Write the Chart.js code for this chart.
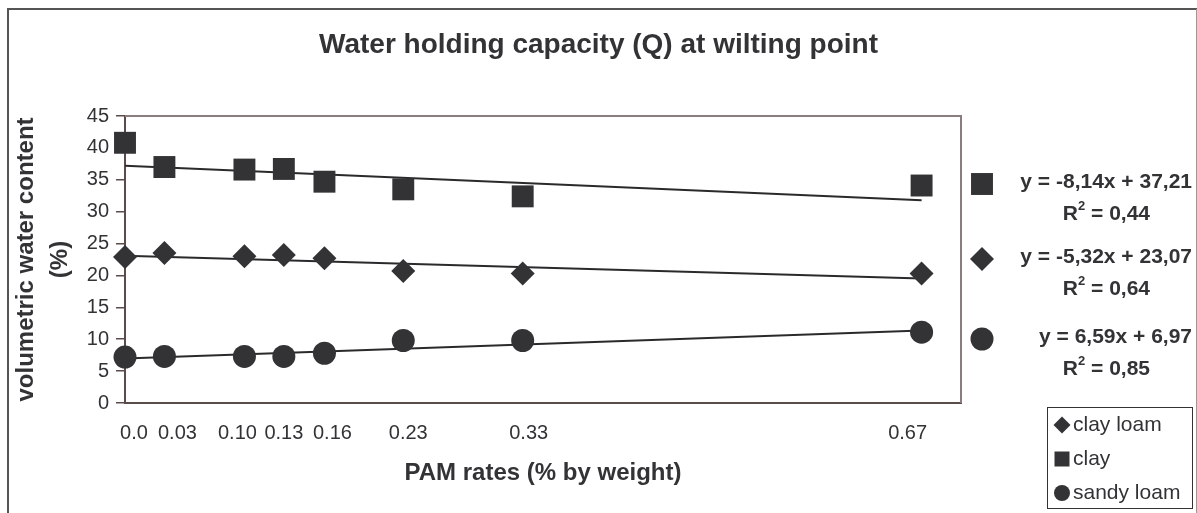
<!DOCTYPE html>
<html>
<head>
<meta charset="utf-8">
<script src="https://cdn.jsdelivr.net/npm/chart.js@4"></script>
<style>
  body { margin: 0; background: #fff; }
  canvas { display: block; }
</style>
</head>
<body>
<canvas id="wiltChart" width="1197" height="513"></canvas>
<script>
  // ────────── Data ──────────
  const pamRates = [0, 0.033, 0.1, 0.133, 0.167, 0.233, 0.333, 0.667];
  const xTickLabels = ['0.0', '0.03', '0.10', '0.13', '0.16', '0.23', '0.33', '0.67'];
  const yTicks = [0, 5, 10, 15, 20, 25, 30, 35, 40, 45];

  const clayLoam = [22.9, 23.5, 23.0, 23.2, 22.7, 20.7, 20.3, 20.3];
  const clay = [40.8, 37.0, 36.6, 36.7, 34.7, 33.5, 32.4, 34.1];
  const sandyLoam = [7.2, 7.3, 7.3, 7.3, 7.8, 9.8, 9.8, 11.1];

  // trend line ends, at PAM 0 and 0.667
  const trendX = [0, 0.667];
  const clayLoamTrend = [23.07, 19.52];
  const clayTrend = [37.21, 31.78];
  const sandyLoamTrend = [6.97, 11.37];

  const seriesNames = ['clay loam', 'clay', 'sandy loam'];
  const equations = ['y = -5,32x + 23,07', 'y = -8,14x + 37,21', 'y = 6,59x + 6,97'];
  const rSquared = ['0,64', '0,44', '0,85'];

  const INK = '#333336';
  const FONT = "'Liberation Sans', Arial, sans-serif";
  // excel puts the x labels a little off their points (px)
  const labelNudge = [9, 13, -7, 0, 8, 5, 6, -14];

  const pts = vals => vals.map((v, i) => ({ x: pamRates[i], y: v }));
  const line = vals => vals.map((v, i) => ({ x: trendX[i], y: v }));

  // ────────── Frames, x labels, equations, legend ──────────
  const extras = {
    id: 'extras',
    afterDatasetsDraw(chart) {
      const { ctx, chartArea: a } = chart;
      ctx.save();
      // plot box top + right
      ctx.strokeStyle = '#8a7d7d';
      ctx.lineWidth = 2;
      ctx.beginPath();
      ctx.moveTo(a.left, a.top);
      ctx.lineTo(a.right, a.top);
      ctx.lineTo(a.right, a.bottom);
      ctx.stroke();
      ctx.restore();
    },
    afterDraw(chart) {
      const { ctx, scales: { x } } = chart;
      ctx.save();
      // outer frame
      ctx.strokeStyle = '#555';
      ctx.lineWidth = 2;
      ctx.beginPath();
      ctx.moveTo(8, 513);
      ctx.lineTo(8, 9);
      ctx.lineTo(1197, 9);
      ctx.stroke();
      ctx.strokeStyle = '#999';
      ctx.lineWidth = 1;
      ctx.beginPath();
      ctx.moveTo(1196.5, 9);
      ctx.lineTo(1196.5, 513);
      ctx.stroke();

      // x tick labels
      ctx.fillStyle = INK;
      ctx.font = '20px ' + FONT;
      ctx.textAlign = 'center';
      ctx.textBaseline = 'middle';
      pamRates.forEach((v, i) => {
        ctx.fillText(xTickLabels[i], x.getPixelForValue(v) + labelNudge[i], 433);
      });

      // equation block (order on screen: clay, clay loam, sandy loam)
      const eqOrder = [1, 0, 2];
      const eqY = [184, 259, 339];
      eqOrder.forEach((di, k) => {
        const ds = chart.data.datasets[di];
        ctx.fillStyle = INK;
        Chart.helpers.drawPoint(ctx, { pointStyle: ds.pointStyle, radius: ds.pointRadius, rotation: 0, borderWidth: 0 }, 982, eqY[k]);
        ctx.fillStyle = INK;
        ctx.font = 'bold 21px ' + FONT;
        ctx.textAlign = 'right';
        ctx.fillText(equations[di], 1192, eqY[k] - 2);
        // R² line with superscript
        const y2 = eqY[k] + 30;
        const rest = ' = ' + rSquared[di];
        const wRest = ctx.measureText(rest).width;
        ctx.fillText(rest, 1150, y2);
        const xR = 1150 - wRest;
        ctx.font = 'bold 13px ' + FONT;
        const w2 = ctx.measureText('2').width;
        ctx.fillText('2', xR, y2 - 8);
        ctx.font = 'bold 21px ' + FONT;
        ctx.fillText('R', xR - w2, y2);
      });

      // legend box
      ctx.strokeStyle = '#333';
      ctx.lineWidth = 1;
      ctx.strokeRect(1047.5, 407.5, 145, 101);
      const legY = [425, 459, 493];
      const legR = [8.5, 10.6, 8];
      chart.data.datasets.slice(0, 3).forEach((ds, i) => {
        ctx.fillStyle = INK;
        Chart.helpers.drawPoint(ctx, { pointStyle: ds.pointStyle, radius: legR[i], rotation: 0, borderWidth: 0 }, 1062, legY[i]);
        ctx.fillStyle = INK;
        ctx.font = '21px ' + FONT;
        ctx.textAlign = 'left';
        ctx.fillText(seriesNames[i], 1073, legY[i]);
      });
      ctx.restore();
    }
  };

  // ────────── Chart ──────────
  const marker = (label, vals, style, r) => ({
    type: 'scatter', label, data: pts(vals), pointStyle: style, pointRadius: r,
    backgroundColor: INK, borderColor: INK, borderWidth: 0, order: 0, clip: false
  });
  const trend = vals => ({
    type: 'line', data: line(vals), showLine: true, pointRadius: 0,
    borderColor: '#2a2a2c', borderWidth: 2, fill: false, order: 1
  });

  new Chart(document.getElementById('wiltChart'), {
    type: 'scatter',
    data: {
      datasets: [
        marker(seriesNames[0], clayLoam, 'rectRot', 12),
        marker(seriesNames[1], clay, 'rect', 15.5),
        marker(seriesNames[2], sandyLoam, 'circle', 11.5),
        trend(clayLoamTrend),
        trend(clayTrend),
        trend(sandyLoamTrend)
      ]
    },
    options: {
      responsive: false,
      animation: false,
      layout: { padding: { left: 0, top: 9, right: 0, bottom: 0 } },
      plugins: {
        legend: { display: false },
        tooltip: { enabled: false },
        title: {
          display: true,
          text: 'Water holding capacity (Q) at wilting point',
          color: INK,
          font: { family: FONT, size: 28, weight: 'bold', lineHeight: 1.2 },
          padding: { top: 19, bottom: 54.4 }
        }
      },
      scales: {
        x: {
          type: 'linear', min: 0, max: 0.7,
          afterFit: s => { s.height = 110; },
          afterBuildTicks: s => { s.ticks = pamRates.map(v => ({ value: v })); },
          ticks: { display: false },
          grid: { display: false },
          border: { color: '#5b4b4b', width: 2 },
          title: {
            display: true, text: 'PAM rates (% by weight)', color: INK,
            font: { family: FONT, size: 24, weight: 'bold', lineHeight: 1.2 },
            padding: { top: 0, bottom: 25 }
          }
        },
        y: {
          min: 0, max: 45,
          afterFit: s => { s.width = 125; },
          afterBuildTicks: s => { s.ticks = yTicks.map(v => ({ value: v })); },
          ticks: { color: INK, padding: 7, font: { family: FONT, size: 20 } },
          grid: { drawOnChartArea: false, drawTicks: true, tickLength: 9, color: '#5b4b4b', lineWidth: 1.5 },
          border: { color: '#5b4b4b', width: 2 },
          title: {
            display: true, text: ['volumetric water content', '(%)'], color: INK,
            font: { family: FONT, size: 24, weight: 'bold', lineHeight: 1.4 },
            padding: { top: 10, bottom: 0 }
          }
        },
        // empty strip on the right for the equations and legend
        yRight: {
          position: 'right', min: 0, max: 1,
          afterFit: s => { s.width = 236; },
          ticks: { display: false },
          grid: { display: false },
          border: { display: false }
        }
      }
    },
    plugins: [extras]
  });
</script>
</body>
</html>
